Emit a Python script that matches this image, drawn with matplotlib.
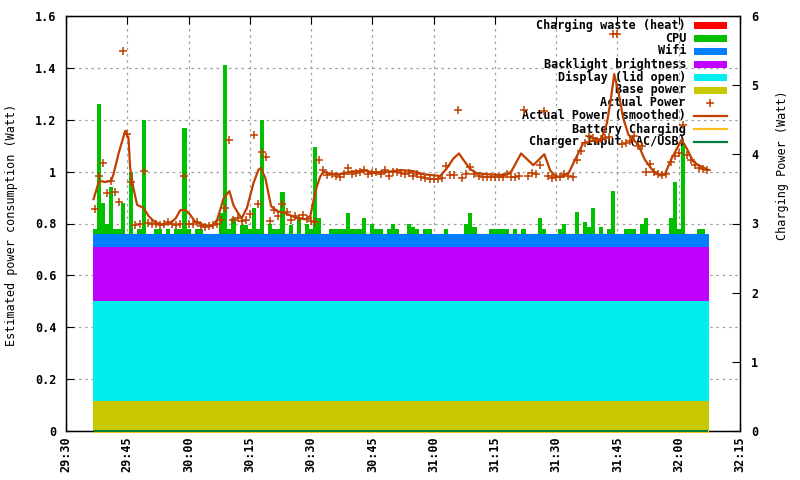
import matplotlib
matplotlib.use("Agg")
import matplotlib.pyplot as plt
import matplotlib.ticker as mticker
from matplotlib.patches import Rectangle
from matplotlib.lines import Line2D
import numpy as np

plt.rcParams['font.family'] = 'DejaVu Sans Mono'
plt.rcParams['font.weight'] = 'bold'
plt.rcParams['font.size'] = 8.5

# ---- data (time in seconds, 29:37 = 1777 s) ----
t_start = 1777

# constant stacked components (Watt)
base_power = 0.115
display = 0.385
backlight = 0.21
wifi = 0.05
charging_waste = 0.0

# CPU share per second
cpu = [0.02, 0.50, 0.12, 0.04, 0.18, 0.02, 0.02, 0.12, 0, 0.24,
       0, 0.02, 0.44, 0, 0, 0.02, 0.02, 0, 0.02, 0,
       0.02, 0.02, 0.41, 0.02, 0, 0.02, 0.02, 0, 0, 0,
       0, 0.08, 0.65, 0.02, 0.06, 0, 0.035, 0.035, 0.02, 0.10,
       0.02, 0.44, 0, 0.04, 0.02, 0.02, 0.16, 0, 0.035, 0,
       0.06, 0, 0.04, 0.02, 0.335, 0.06, 0, 0, 0.02, 0.02,
       0.02, 0.02, 0.08, 0.02, 0.02, 0.02, 0.06, 0, 0.04, 0.02,
       0.02, 0, 0.02, 0.04, 0.02, 0, 0, 0.04, 0.025, 0.02,
       0, 0.02, 0.02, 0, 0, 0, 0.02, 0, 0, 0,
       0, 0.04, 0.08, 0.025, 0, 0, 0, 0.02, 0.02, 0.02,
       0.02, 0.02, 0, 0.02, 0, 0.02, 0, 0, 0, 0.06,
       0.02, 0, 0, 0, 0.02, 0.04, 0, 0, 0.085, 0,
       0.045, 0.025, 0.10, 0, 0.025, 0, 0.02, 0.165, 0, 0,
       0.02, 0.02, 0.02, 0, 0.04, 0.06, 0, 0, 0.02, 0,
       0, 0.06, 0.20, 0.02, 0.35, 0, 0, 0, 0.02, 0.02,
       0]

# measured power per second
power = [0.856, 0.983, 1.033, 0.918, 0.964, 0.921, 0.883, 1.465, 1.145, 0.960,
         0.794, 0.798, 1.002, 0.802, 0.798, 0.800, 0.794, 0.798, 0.806, 0.798,
         0.794, 0.798, 0.983, 0.798, 0.800, 0.805, 0.790, 0.785, 0.790, 0.795,
         0.800, 0.813, 0.860, 1.122, 0.813, 0.820, 0.810, 0.813, 0.837, 1.141,
         0.875, 1.076, 1.056, 0.810, 0.852, 0.829, 0.875, 0.845, 0.813, 0.830,
         0.820, 0.833, 0.817, 0.810, 0.806, 1.045, 1.006, 0.987, 0.990, 0.985,
         0.980, 0.990, 1.014, 0.990, 0.995, 1.000, 1.006, 0.990, 0.995, 1.000,
         0.990, 1.006, 0.983, 1.000, 1.000, 0.995, 0.990, 0.995, 0.985, 0.990,
         0.978, 0.975, 0.972, 0.970, 0.972, 0.975, 1.022, 0.987, 0.987, 1.237,
         0.975, 0.990, 1.018, 0.990, 0.985, 0.980, 0.980, 0.980, 0.980, 0.978,
         0.978, 0.990, 0.980, 0.980, 0.985, 1.237, 0.983, 0.995, 0.990, 1.025,
         1.234, 0.983, 0.975, 0.980, 0.980, 0.990, 0.985, 0.979, 1.045, 1.080,
         1.110, 1.137, 1.130, 1.120, 1.125, 1.130, 1.133, 1.530, 1.530, 1.106,
         1.110, 1.120, 1.137, 1.100, 1.100, 1.000, 1.030, 0.998, 0.990, 0.987,
         0.990, 1.037, 1.060, 1.072, 1.180, 1.064, 1.045, 1.027, 1.015, 1.010,
         1.005]

# smoothed power (vertices, seconds after 29:30)
smooth_s = [6.75, 8, 8.5, 9.5, 11, 11.6, 12.9, 14.5, 15.3, 15.7, 16.5, 17.4, 19,
            20.2, 21.7, 23.5, 25.5, 26.9, 28, 29.2, 30.4, 31.6, 33.6, 35.7, 37,
            38.6, 40, 41, 42.2, 43, 44.3, 45.9, 47.1, 47.7, 48.8, 50.2, 51.6,
            53.6, 55.6, 56.8, 58.6, 59.8, 60.6, 61.4, 62.2, 63, 64.3, 66.7,
            68.3, 69.9, 73.2, 75.6, 78.9, 82, 85, 87.5, 91.6, 93.2, 94.8, 96.2,
            97.3, 98.9, 100.5, 103, 106.2, 107.5, 109, 111.4, 114.4, 117.1,
            118.5, 119.7, 121, 123, 124.6, 126.6, 129.4, 131, 132.4, 133.3,
            134.2, 135.2, 136.4, 137.7, 140.1, 141.7, 143.8, 145.4, 146.6,
            148.3, 150.7, 151.9, 153.5, 154.8, 157.2]
smooth_v = [0.894, 0.96, 0.964, 0.96, 0.964, 0.988, 1.072, 1.157, 1.13, 1.014,
            0.937, 0.872, 0.86, 0.829, 0.806, 0.795, 0.80, 0.821, 0.852, 0.852,
            0.834, 0.807, 0.795, 0.789, 0.814, 0.898, 0.925, 0.87, 0.838, 0.82,
            0.86, 0.956, 1.007, 1.014, 0.975, 0.867, 0.848, 0.84, 0.827, 0.82,
            0.816, 0.828, 0.89, 0.942, 0.98, 1.0, 0.993, 0.99, 0.995, 1.0,
            1.004, 0.995, 1.0, 1.006, 1.002, 0.99, 0.983, 1.012, 1.05, 1.07,
            1.045, 1.011, 0.994, 0.99, 0.987, 0.987, 1.0, 1.07, 1.025, 1.067,
            1.006, 0.983, 0.98, 0.993, 1.045, 1.109, 1.122, 1.122, 1.186, 1.27,
            1.376, 1.31, 1.207, 1.142, 1.104, 1.046, 1.001, 0.985, 0.99,
            1.052, 1.123, 1.091, 1.04, 1.025, 1.007]

battery_charging = 0.0
charger_input = 0.0

col_waste = "#ff0000"
col_cpu = "#00c000"
col_wifi = "#0080ff"
col_backlight = "#c000ff"
col_display = "#00eeee"
col_base = "#c8c800"
col_power = "#c04000"
col_batt = "#ffc020"
col_charger = "#008040"

n = len(cpu)
t = t_start + np.arange(n)
edges = t_start - 0.5 + np.arange(n + 1)
cpu = np.array(cpu)

fig = plt.figure(figsize=(8, 4.8), dpi=100)
ax = fig.add_axes([66/800, 49/480, 674/800, 415/480])

# stacked layers
lvl0 = np.zeros(n)
lvl1 = lvl0 + base_power
lvl2 = lvl1 + display
lvl3 = lvl2 + backlight
lvl4 = lvl3 + wifi
lvl5 = lvl4 + cpu
lvl6 = lvl5 + charging_waste
for lo, hi, c in [(lvl0, lvl1, col_base), (lvl1, lvl2, col_display),
                  (lvl2, lvl3, col_backlight), (lvl3, lvl4, col_wifi),
                  (lvl4, lvl5, col_cpu), (lvl5, lvl6, col_waste)]:
    ax.stairs(hi, edges, baseline=lo, fill=True, color=c, lw=0, zorder=2)

ax.plot(t, power, ls='none', marker='+', ms=6, mew=1.1, color=col_power, zorder=5)
ax.plot(1770 + np.array(smooth_s), smooth_v, color=col_power, lw=1.6, zorder=5)

ax.set_xlim(1770, 1935)
ax.set_ylim(0, 1.6)
ax.xaxis.set_major_locator(mticker.MultipleLocator(15))
ax.xaxis.set_major_formatter(mticker.FuncFormatter(lambda v, p: f"{int(v//60)}:{int(v % 60):02d}"))
ax.yaxis.set_major_locator(mticker.MultipleLocator(0.2))
ax.yaxis.set_major_formatter(mticker.FuncFormatter(lambda v, p: f"{v:g}"))
ax.tick_params(axis='x', direction='in', length=6, rotation=90, pad=4, top=True)
ax.tick_params(axis='y', direction='in', length=6, pad=7)
ax.set_axisbelow(True)
ax.grid(True, color='#a0a0a0', linestyle=(0, (2, 3)), lw=0.9, zorder=0)
for sp in ax.spines.values():
    sp.set_linewidth(1)

ax2 = ax.twinx()
ax2.set_ylim(0, 6)
ax2.yaxis.set_major_locator(mticker.MultipleLocator(1))
ax2.tick_params(axis='y', direction='in', length=6, pad=8)
ax2.plot(t, np.full(n, battery_charging), color=col_batt, lw=2.2, clip_on=False, zorder=6)
ax2.plot(t, np.full(n, charger_input), color=col_charger, lw=1.4, clip_on=False, zorder=7)

ax.set_ylabel("Estimated power consumption (Watt)")
ax.yaxis.set_label_coords(-0.071, 0.496)
ax2.set_ylabel("Charging Power (Watt)")
ax2.yaxis.set_label_coords(1.053, 0.64)

# key (top right, text right aligned, sample on the right)
def fx(x):
    return x / 800

def fy(y):
    return 1 - y / 480

key = [("Charging waste (heat)", 'box', col_waste),
       ("CPU", 'box', col_cpu),
       ("Wifi", 'box', col_wifi),
       ("Backlight brightness", 'box', col_backlight),
       ("Display (lid open)", 'box', col_display),
       ("Base power", 'box', col_base),
       ("Actual Power", 'plus', col_power),
       ("Actual Power (smoothed)", 'line', col_power),
       ("Battery Charging", 'line', col_batt),
       ("Charger Input (AC/USB)", 'line', col_charger)]
for k, (lab, kind, c) in enumerate(key):
    yy = 25 + 13 * k
    ax.text(fx(686), fy(yy), lab, transform=fig.transFigure, ha='right',
            va='center', zorder=3)
    if kind == 'box':
        ax.add_artist(Rectangle((fx(694), fy(yy + 3.5)), fx(33), 7 / 480,
                                transform=fig.transFigure, color=c, lw=0,
                                clip_on=False, zorder=3))
    elif kind == 'line':
        ax.add_artist(Line2D([fx(694), fx(727)], [fy(yy), fy(yy)], color=c,
                             lw=1.6, transform=fig.transFigure, clip_on=False, zorder=3))
    else:
        ax.add_artist(Line2D([fx(710)], [fy(yy)], color=c, marker='+', ms=6,
                             mew=1.1, transform=fig.transFigure, clip_on=False, zorder=3))

fig.savefig("out.png", dpi=100)
